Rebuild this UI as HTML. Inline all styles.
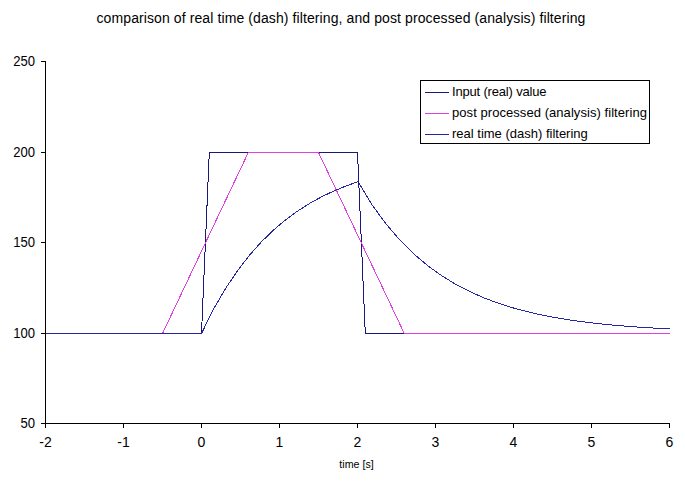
<!DOCTYPE html>
<html><head><meta charset="utf-8"><style>
html,body{margin:0;padding:0;background:#fff;width:685px;height:481px;overflow:hidden}
svg{display:block}
text{font-family:"Liberation Sans",sans-serif}
</style></head><body>
<svg width="685" height="481" viewBox="0 0 685 481">
<rect width="685" height="481" fill="#fff"/>
<text x="341" y="23" font-family="Liberation Sans, sans-serif" font-size="14" text-anchor="middle" fill="#000" letter-spacing="0.1">comparison of real time (dash) filtering, and post processed (analysis) filtering</text>
<g stroke="#000" stroke-width="1" fill="none" shape-rendering="crispEdges">
<path d="M45.5,61 V428 M45,423.5 H670"/>
<path d="M41,61.5 H46"/>
<path d="M41,152.5 H46"/>
<path d="M41,242.5 H46"/>
<path d="M41,333.5 H46"/>
<path d="M41,423.5 H46"/>
<path d="M45.5,423 V428"/>
<path d="M123.5,423 V428"/>
<path d="M201.5,423 V428"/>
<path d="M279.5,423 V428"/>
<path d="M357.5,423 V428"/>
<path d="M435.5,423 V428"/>
<path d="M513.5,423 V428"/>
<path d="M591.5,423 V428"/>
<path d="M669.5,423 V428"/>
</g>
<text x="35" y="66" font-family="Liberation Sans, sans-serif" font-size="14" text-anchor="end" fill="#000" textLength="21.8" lengthAdjust="spacingAndGlyphs">250</text>
<text x="35" y="157" font-family="Liberation Sans, sans-serif" font-size="14" text-anchor="end" fill="#000" textLength="21.8" lengthAdjust="spacingAndGlyphs">200</text>
<text x="35" y="247" font-family="Liberation Sans, sans-serif" font-size="14" text-anchor="end" fill="#000" textLength="21.8" lengthAdjust="spacingAndGlyphs">150</text>
<text x="35" y="338" font-family="Liberation Sans, sans-serif" font-size="14" text-anchor="end" fill="#000" textLength="21.8" lengthAdjust="spacingAndGlyphs">100</text>
<text x="35" y="428" font-family="Liberation Sans, sans-serif" font-size="14" text-anchor="end" fill="#000" textLength="14.6" lengthAdjust="spacingAndGlyphs">50</text>
<text x="45.5" y="447" font-family="Liberation Sans, sans-serif" font-size="14" text-anchor="middle" fill="#000">-2</text>
<text x="123.5" y="447" font-family="Liberation Sans, sans-serif" font-size="14" text-anchor="middle" fill="#000">-1</text>
<text x="201.5" y="447" font-family="Liberation Sans, sans-serif" font-size="14" text-anchor="middle" fill="#000">0</text>
<text x="279.5" y="447" font-family="Liberation Sans, sans-serif" font-size="14" text-anchor="middle" fill="#000">1</text>
<text x="357.5" y="447" font-family="Liberation Sans, sans-serif" font-size="14" text-anchor="middle" fill="#000">2</text>
<text x="435.5" y="447" font-family="Liberation Sans, sans-serif" font-size="14" text-anchor="middle" fill="#000">3</text>
<text x="513.5" y="447" font-family="Liberation Sans, sans-serif" font-size="14" text-anchor="middle" fill="#000">4</text>
<text x="591.5" y="447" font-family="Liberation Sans, sans-serif" font-size="14" text-anchor="middle" fill="#000">5</text>
<text x="669.5" y="447" font-family="Liberation Sans, sans-serif" font-size="14" text-anchor="middle" fill="#000">6</text>
<text x="356.5" y="468" font-family="Liberation Sans, sans-serif" font-size="10.67" text-anchor="middle" fill="#000">time [s]</text>
<polyline points="45.50,333.50 201.50,333.50 209.30,152.50 357.50,152.50 365.30,333.50 669.50,333.50" fill="none" stroke="#1a1878" stroke-width="1" shape-rendering="crispEdges"/>
<polyline points="45.50,333.50 162.50,333.50 248.30,152.50 318.50,152.50 404.30,333.50 669.50,333.50" fill="none" stroke="#e040e0" stroke-width="1" shape-rendering="crispEdges"/>
<polyline points="45.50,333.50 201.50,333.50 213.50,309.21 225.50,288.59 237.50,270.71 249.50,255.19 261.50,241.73 273.50,230.05 285.50,219.91 297.50,211.12 309.50,203.49 321.50,196.87 333.50,191.13 345.50,186.15 357.50,181.83 358.00,181.66 372.00,204.78 386.00,223.94 400.00,240.23 414.00,254.10 428.00,265.89 442.00,275.92 456.00,284.45 470.00,291.70 484.00,297.87 498.00,303.12 512.00,307.59 526.00,311.38 540.00,314.61 554.00,317.36 568.00,319.70 582.00,321.69 596.00,323.38 610.00,324.81 624.00,326.04 638.00,327.08 652.00,327.96 666.00,328.72 669.50,328.89" fill="none" stroke="#2626a0" stroke-width="1" shape-rendering="crispEdges"/>
<rect x="420.5" y="80.5" width="229" height="63" fill="#fff" stroke="#000" stroke-width="1" shape-rendering="crispEdges"/>
<path d="M425,92.5 H449" stroke="#1a1878" stroke-width="1" shape-rendering="crispEdges"/>
<text x="452" y="96" font-family="Liberation Sans, sans-serif" font-size="13" fill="#000" textLength="94.5" lengthAdjust="spacing">Input (real) value</text>
<path d="M425,113.5 H449" stroke="#e040e0" stroke-width="1" shape-rendering="crispEdges"/>
<text x="452" y="117" font-family="Liberation Sans, sans-serif" font-size="13" fill="#000" textLength="194.9" lengthAdjust="spacing">post processed (analysis) filtering</text>
<path d="M425,134.5 H449" stroke="#2626a0" stroke-width="1" shape-rendering="crispEdges"/>
<text x="452" y="138" font-family="Liberation Sans, sans-serif" font-size="13" fill="#000" textLength="135.8" lengthAdjust="spacing">real time (dash) filtering</text>
</svg>
</body></html>
